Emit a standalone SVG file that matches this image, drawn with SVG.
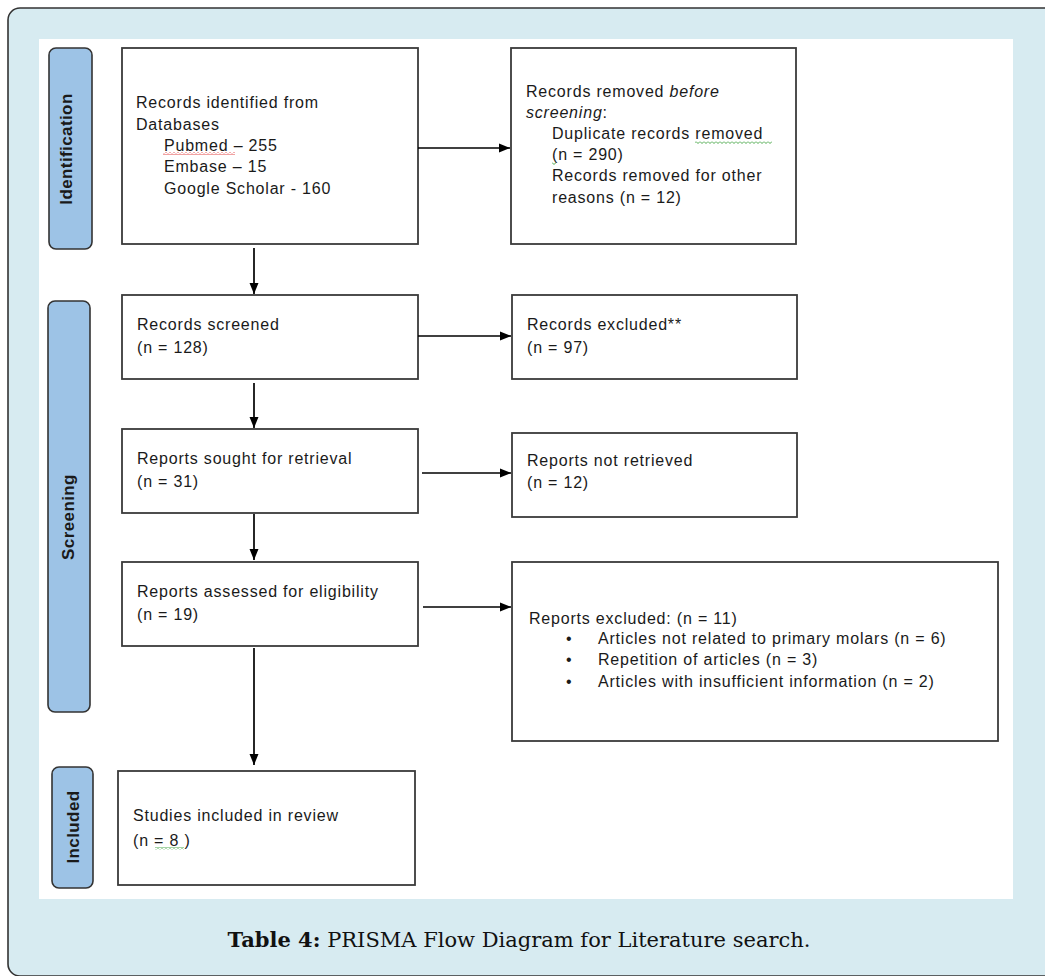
<svg xmlns="http://www.w3.org/2000/svg" width="1045" height="976" viewBox="0 0 1045 976">
<style>
.box{fill:#fff;stroke:#3a3a3a;stroke-width:1.8}
.lab{fill:#9dc3e6;stroke:#333;stroke-width:1.6}
.t{font-family:"Liberation Sans",Arial,sans-serif;font-size:16px;fill:#1a1a1a;letter-spacing:0.8px}
.lt{font-family:"Liberation Sans",Arial,sans-serif;font-size:17px;font-weight:bold;fill:#1a1a1a;letter-spacing:0.4px}
.con{stroke:#000;stroke-width:1.7;fill:none}
.cap{font-family:"DejaVu Serif","Liberation Serif",serif;font-size:21px;fill:#111}
</style>
<defs>
<marker id="ah" markerUnits="userSpaceOnUse" markerWidth="12" markerHeight="11" refX="11" refY="5.5" orient="auto">
<path d="M0,1 L11,5.5 L0,10 z" fill="#000"/>
</marker>
<pattern id="wr" patternUnits="userSpaceOnUse" width="4" height="3">
<polyline points="0,0.5 2,2.5 4,0.5" fill="none" stroke="#e03030" stroke-width="0.9"/>
</pattern>
<pattern id="wg" patternUnits="userSpaceOnUse" width="4" height="3">
<polyline points="0,0.5 2,2.5 4,0.5" fill="none" stroke="#3aa03a" stroke-width="0.9"/>
</pattern>
</defs>

<rect x="8" y="8" width="1070" height="968" rx="12" fill="#d7ebf1" stroke="#333" stroke-width="1.6"/>
<rect x="39" y="39" width="974" height="860" fill="#fff"/>

<g id="label-identification">
<rect class="lab" x="49" y="48" width="43" height="201" rx="7"/>
<text class="lt" transform="translate(72,149) rotate(-90)" text-anchor="middle">Identification</text>
</g>
<g id="label-screening">
<rect class="lab" x="48" y="301" width="42" height="411" rx="7"/>
<text class="lt" transform="translate(74,517) rotate(-90)" text-anchor="middle">Screening</text>
</g>
<g id="label-included">
<rect class="lab" x="52" y="767" width="41" height="121" rx="7"/>
<text class="lt" transform="translate(79,827) rotate(-90)" text-anchor="middle">Included</text>
</g>

<g id="n-identified">
<rect class="box" x="122" y="48" width="296" height="196"/>
<text class="t" x="136" y="108">Records identified from</text>
<text class="t" x="136" y="130">Databases</text>
<text class="t" x="164" y="151">Pubmed – 255</text>
<text class="t" x="164" y="172">Embase – 15</text>
<text class="t" x="164" y="194">Google Scholar - 160</text>
<rect x="163" y="152" width="72" height="3" fill="url(#wr)"/>
</g>

<g id="n-removed">
<rect class="box" x="511" y="48" width="285" height="196"/>
<text class="t" x="526" y="97">Records removed <tspan font-style="italic">before</tspan></text>
<text class="t" x="526" y="118"><tspan font-style="italic">screening</tspan>:</text>
<text class="t" x="552" y="139">Duplicate records removed</text>
<text class="t" x="552" y="160">(n = 290)</text>
<text class="t" x="552" y="181">Records removed for other</text>
<text class="t" x="552" y="203">reasons (n = 12)</text>
<rect x="695" y="141" width="77" height="3" fill="url(#wg)"/>
<rect x="552" y="162" width="4" height="3" fill="url(#wg)"/>
</g>

<g id="n-screened">
<rect class="box" x="122" y="295" width="296" height="84"/>
<text class="t" x="137" y="330">Records screened</text>
<text class="t" x="137" y="353">(n = 128)</text>
</g>

<g id="n-excluded">
<rect class="box" x="512" y="295" width="285" height="84"/>
<text class="t" x="527" y="330">Records excluded**</text>
<text class="t" x="527" y="353">(n = 97)</text>
</g>

<g id="n-sought">
<rect class="box" x="122" y="429" width="296" height="84"/>
<text class="t" x="137" y="464">Reports sought for retrieval</text>
<text class="t" x="137" y="487">(n = 31)</text>
</g>

<g id="n-notretrieved">
<rect class="box" x="512" y="433" width="285" height="84"/>
<text class="t" x="527" y="466">Reports not retrieved</text>
<text class="t" x="527" y="488">(n = 12)</text>
</g>

<g id="n-assessed">
<rect class="box" x="122" y="562" width="296" height="84"/>
<text class="t" x="137" y="597">Reports assessed for eligibility</text>
<text class="t" x="137" y="620">(n = 19)</text>
</g>

<g id="n-reportsexcluded">
<rect class="box" x="512" y="562" width="486" height="179"/>
<text class="t" x="529" y="624">Reports excluded: (n = 11)</text>
<text class="t" x="566" y="644">•</text>
<text class="t" x="598" y="644">Articles not related to primary molars (n = 6)</text>
<text class="t" x="566" y="665">•</text>
<text class="t" x="598" y="665">Repetition of articles (n = 3)</text>
<text class="t" x="566" y="687">•</text>
<text class="t" x="598" y="687">Articles with insufficient information (n = 2)</text>
</g>

<g id="n-included">
<rect class="box" x="118" y="771" width="297" height="114"/>
<text class="t" x="133" y="821">Studies included in review</text>
<text class="t" x="133" y="846">(n =  8 )</text>
<rect x="155" y="847" width="29" height="3" fill="url(#wg)"/>
</g>

<g id="connectors">
<path class="con" d="M418,148 H510" marker-end="url(#ah)"/>
<path class="con" d="M254,248 V294" marker-end="url(#ah)"/>
<path class="con" d="M418,336 H511" marker-end="url(#ah)"/>
<path class="con" d="M254,383 V428" marker-end="url(#ah)"/>
<path class="con" d="M422,473 H511" marker-end="url(#ah)"/>
<path class="con" d="M254,514 V560" marker-end="url(#ah)"/>
<path class="con" d="M423,607 H511" marker-end="url(#ah)"/>
<path class="con" d="M254,648 V765" marker-end="url(#ah)"/>
</g>

<text class="cap" x="519" y="947" text-anchor="middle"><tspan font-weight="bold">Table 4:</tspan> PRISMA Flow Diagram for Literature search.</text>
</svg>
